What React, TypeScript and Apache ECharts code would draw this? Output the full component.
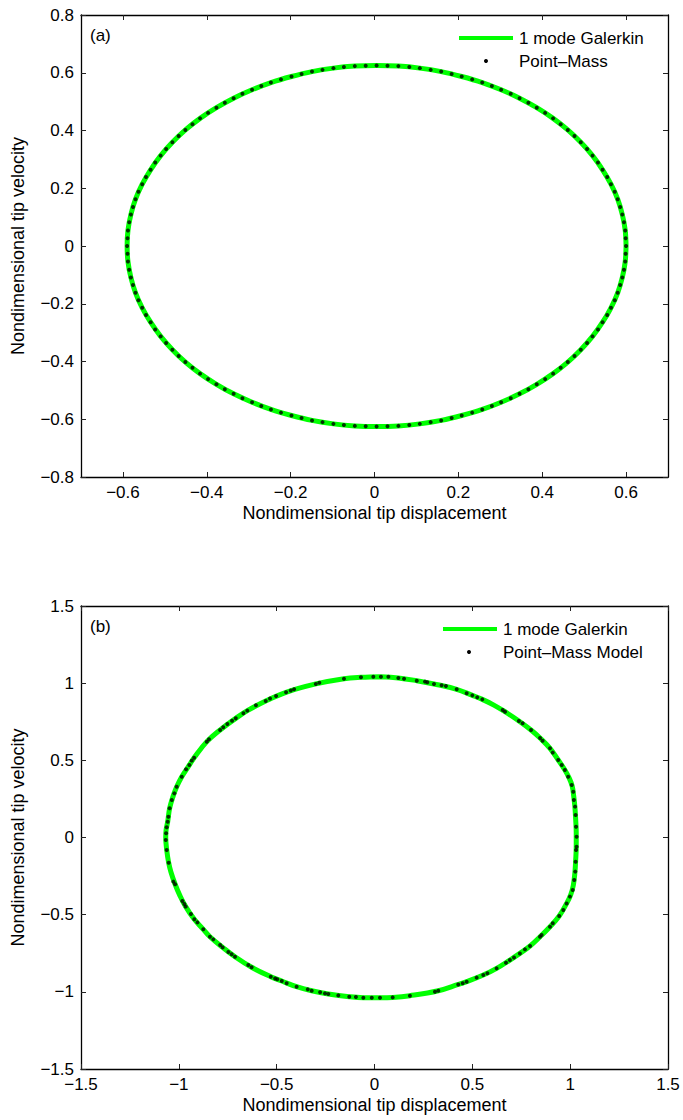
import React, { useEffect, useRef } from "react";
import * as echarts from "echarts";

// ---- Data ----
const xTicksA = [-0.6, -0.4, -0.2, 0, 0.2, 0.4, 0.6];
const yTicksA = [-0.8, -0.6, -0.4, -0.2, 0, 0.2, 0.4, 0.6, 0.8];
const ticksB = [-1.5, -1, -0.5, 0, 0.5, 1, 1.5];

const legendGalerkin = "1 mode Galerkin";
const legendPointMassA = "Point\u2013Mass";
const legendPointMassB = "Point\u2013Mass Model";
const xTitle = "Nondimensional tip displacement";
const yTitle = "Nondimensional tip velocity";

// Panel (a): 1 mode Galerkin (displacement, velocity)
const galerkinA: number[][] = [
  [0.600, 0], [0.598, 0.054], [0.591, 0.109], [0.580, 0.162], [0.564, 0.214], [0.544, 0.264], [0.520, 0.313], [0.492, 0.359], [0.461, 0.402], [0.426, 0.442], [0.387, 0.479], [0.346, 0.512], [0.302, 0.541], [0.257, 0.566], [0.208, 0.587], [0.159, 0.604], [0.108, 0.616], [0.057, 0.623],
  [0.005, 0.625], [-0.047, 0.623], [-0.098, 0.616], [-0.149, 0.604], [-0.198, 0.587], [-0.247, 0.566], [-0.292, 0.541], [-0.336, 0.512], [-0.377, 0.479], [-0.416, 0.442], [-0.451, 0.402], [-0.482, 0.359], [-0.510, 0.313], [-0.534, 0.264], [-0.554, 0.214], [-0.570, 0.162], [-0.581, 0.109], [-0.588, 0.054],
  [-0.590, 0], [-0.588, -0.054], [-0.581, -0.109], [-0.570, -0.162], [-0.554, -0.214], [-0.534, -0.264], [-0.510, -0.313], [-0.482, -0.359], [-0.451, -0.402], [-0.416, -0.442], [-0.377, -0.479], [-0.336, -0.512], [-0.292, -0.541], [-0.247, -0.566], [-0.198, -0.587], [-0.149, -0.604], [-0.098, -0.616], [-0.047, -0.623],
  [0.005, -0.625], [0.057, -0.623], [0.108, -0.616], [0.159, -0.604], [0.208, -0.587], [0.257, -0.566], [0.302, -0.541], [0.346, -0.512], [0.387, -0.479], [0.426, -0.442], [0.461, -0.402], [0.492, -0.359], [0.520, -0.313], [0.544, -0.264], [0.564, -0.214], [0.580, -0.162], [0.591, -0.109], [0.598, -0.054], [0.600, 0],
];

// Panel (a): Point-Mass samples
const pointMassA: number[][] = [
  [0.600, 0], [0.599, 0.027], [0.598, 0.054], [0.595, 0.082], [0.591, 0.109], [0.586, 0.135], [0.580, 0.162], [0.573, 0.188], [0.564, 0.214], [0.555, 0.239], [0.544, 0.264], [0.533, 0.289], [0.520, 0.313], [0.507, 0.336], [0.492, 0.359], [0.477, 0.381], [0.461, 0.402], [0.444, 0.422], [0.426, 0.442], [0.407, 0.461], [0.387, 0.479], [0.367, 0.496], [0.346, 0.512], [0.325, 0.527], [0.302, 0.541], [0.280, 0.554], [0.257, 0.566], [0.233, 0.577], [0.208, 0.587], [0.184, 0.596], [0.159, 0.604], [0.134, 0.610], [0.108, 0.616], [0.083, 0.620], [0.057, 0.623], [0.031, 0.624],
  [0.005, 0.625], [-0.021, 0.624], [-0.047, 0.623], [-0.073, 0.620], [-0.098, 0.616], [-0.124, 0.610], [-0.149, 0.604], [-0.174, 0.596], [-0.198, 0.587], [-0.223, 0.577], [-0.247, 0.566], [-0.270, 0.554], [-0.292, 0.541], [-0.315, 0.527], [-0.336, 0.512], [-0.357, 0.496], [-0.377, 0.479], [-0.397, 0.461], [-0.416, 0.442], [-0.434, 0.422], [-0.451, 0.402], [-0.467, 0.381], [-0.482, 0.359], [-0.497, 0.336], [-0.510, 0.313], [-0.523, 0.289], [-0.534, 0.264], [-0.545, 0.239], [-0.554, 0.214], [-0.563, 0.188], [-0.570, 0.162], [-0.576, 0.135], [-0.581, 0.109], [-0.585, 0.082], [-0.588, 0.054], [-0.589, 0.027],
  [-0.590, 0], [-0.589, -0.027], [-0.588, -0.054], [-0.585, -0.082], [-0.581, -0.109], [-0.576, -0.135], [-0.570, -0.162], [-0.563, -0.188], [-0.554, -0.214], [-0.545, -0.239], [-0.534, -0.264], [-0.523, -0.289], [-0.510, -0.313], [-0.497, -0.336], [-0.482, -0.359], [-0.467, -0.381], [-0.451, -0.402], [-0.434, -0.422], [-0.416, -0.442], [-0.397, -0.461], [-0.377, -0.479], [-0.357, -0.496], [-0.336, -0.512], [-0.315, -0.527], [-0.292, -0.541], [-0.270, -0.554], [-0.247, -0.566], [-0.223, -0.577], [-0.198, -0.587], [-0.174, -0.596], [-0.149, -0.604], [-0.124, -0.610], [-0.098, -0.616], [-0.073, -0.620], [-0.047, -0.623], [-0.021, -0.624],
  [0.005, -0.625], [0.031, -0.624], [0.057, -0.623], [0.083, -0.620], [0.108, -0.616], [0.134, -0.610], [0.159, -0.604], [0.184, -0.596], [0.208, -0.587], [0.233, -0.577], [0.257, -0.566], [0.280, -0.554], [0.302, -0.541], [0.325, -0.527], [0.346, -0.512], [0.367, -0.496], [0.387, -0.479], [0.407, -0.461], [0.426, -0.442], [0.444, -0.422], [0.461, -0.402], [0.477, -0.381], [0.492, -0.359], [0.507, -0.336], [0.520, -0.313], [0.533, -0.289], [0.544, -0.264], [0.555, -0.239], [0.564, -0.214], [0.573, -0.188], [0.580, -0.162], [0.586, -0.135], [0.591, -0.109], [0.595, -0.082], [0.598, -0.054], [0.599, -0.027],
];

// Panel (b): 1 mode Galerkin
const galerkinB: number[][] = [
  [0.033, 1.042], [0.122, 1.034], [0.216, 1.016], [0.304, 0.995], [0.420, 0.960], [0.500, 0.921], [0.551, 0.895], [0.610, 0.858], [0.667, 0.815], [0.738, 0.755], [0.800, 0.697], [0.846, 0.645], [0.897, 0.578], [0.939, 0.502], [0.973, 0.437], [0.995, 0.385], [1.010, 0.335], [1.018, 0.270], [1.024, 0.200], [1.028, 0.120], [1.031, 0.030], [1.031, -0.060], [1.028, -0.150], [1.024, -0.230], [1.016, -0.310], [1.003, -0.370], [0.982, -0.427], [0.944, -0.509], [0.897, -0.578], [0.846, -0.643], [0.795, -0.703], [0.743, -0.751], [0.692, -0.794], [0.624, -0.848], [0.556, -0.891], [0.471, -0.934], [0.428, -0.952], [0.326, -0.993], [0.181, -1.025], [0.093, -1.036], [0.028, -1.038],
  [-0.057, -1.038], [-0.129, -1.032], [-0.236, -1.014], [-0.321, -0.993], [-0.398, -0.967], [-0.474, -0.930], [-0.530, -0.902], [-0.628, -0.841], [-0.713, -0.773], [-0.776, -0.712], [-0.841, -0.643], [-0.875, -0.595], [-0.921, -0.530], [-0.965, -0.448], [-0.995, -0.375], [-1.019, -0.303], [-1.040, -0.225], [-1.052, -0.163], [-1.062, -0.081], [-1.067, 0.000], [-1.065, 0.050], [-1.057, 0.102], [-1.047, 0.189], [-1.030, 0.265], [-1.011, 0.329], [-0.985, 0.394], [-0.946, 0.470], [-0.922, 0.517], [-0.857, 0.621], [-0.789, 0.697], [-0.709, 0.772], [-0.650, 0.822], [-0.556, 0.885], [-0.452, 0.941], [-0.300, 0.995], [-0.156, 1.029], [-0.069, 1.038], [0.033, 1.042],
];

// Panel (b): Point-Mass Model samples
const pointMassB: number[][] = [
  [-1.067, -0.016], [-1.065, 0.027], [-1.062, 0.066], [-1.057, 0.102], [-1.053, 0.135], [-1.047, 0.189], [-1.036, 0.243], [-1.023, 0.286], [-1.011, 0.329], [-0.985, 0.394], [-0.963, 0.442], [-0.946, 0.470], [-0.934, 0.498], [-0.922, 0.517], [-0.857, 0.621], [-0.846, 0.636], [-0.789, 0.697], [-0.773, 0.714], [-0.752, 0.736], [-0.728, 0.757], [-0.709, 0.772], [-0.670, 0.805], [-0.650, 0.822], [-0.606, 0.857], [-0.556, 0.885], [-0.534, 0.900], [-0.503, 0.917], [-0.452, 0.941], [-0.428, 0.952], [-0.411, 0.960], [-0.300, 0.995], [-0.282, 1.003], [-0.156, 1.029], [-0.069, 1.038], [-0.006, 1.042], [0.033, 1.042], [0.071, 1.042],
  [0.122, 1.034], [0.151, 1.029], [0.216, 1.016], [0.258, 1.010], [0.270, 1.006], [0.304, 0.995], [0.343, 0.986], [0.365, 0.982], [0.420, 0.960], [0.471, 0.934], [0.500, 0.921], [0.525, 0.908], [0.551, 0.895], [0.655, 0.826], [0.667, 0.815], [0.738, 0.755], [0.757, 0.740], [0.800, 0.697], [0.846, 0.645], [0.859, 0.627], [0.897, 0.578], [0.911, 0.550], [0.939, 0.502], [0.957, 0.470], [0.973, 0.437], [0.990, 0.394], [1.008, 0.340], [1.016, 0.297], [1.019, 0.243], [1.025, 0.200], [1.028, 0.146], [1.030, 0.070], [1.033, 0.005], [1.033, -0.060],
  [1.030, -0.081], [1.028, -0.157], [1.026, -0.221], [1.021, -0.275], [1.013, -0.340], [0.999, -0.383], [0.982, -0.427], [0.965, -0.470], [0.944, -0.509], [0.911, -0.556], [0.897, -0.578], [0.854, -0.632], [0.846, -0.643], [0.795, -0.703], [0.769, -0.725], [0.743, -0.751], [0.713, -0.777], [0.692, -0.794], [0.672, -0.811], [0.624, -0.848], [0.577, -0.880], [0.556, -0.891], [0.522, -0.908], [0.471, -0.934], [0.451, -0.945], [0.428, -0.952], [0.326, -0.993], [0.309, -0.999], [0.181, -1.025], [0.093, -1.036], [0.028, -1.038], [-0.014, -1.038],
  [-0.057, -1.038], [-0.095, -1.034], [-0.129, -1.032], [-0.185, -1.023], [-0.236, -1.014], [-0.253, -1.010], [-0.278, -1.003], [-0.321, -0.993], [-0.341, -0.984], [-0.398, -0.967], [-0.449, -0.945], [-0.474, -0.930], [-0.497, -0.919], [-0.508, -0.913], [-0.530, -0.902], [-0.628, -0.841], [-0.645, -0.826], [-0.713, -0.773], [-0.730, -0.757], [-0.747, -0.742], [-0.776, -0.712], [-0.789, -0.697], [-0.824, -0.660], [-0.841, -0.643], [-0.875, -0.595], [-0.905, -0.550], [-0.921, -0.530], [-0.938, -0.496], [-0.965, -0.448], [-0.972, -0.431], [-0.982, -0.412], [-1.019, -0.303], [-1.028, -0.286], [-1.052, -0.163], [-1.062, -0.081],
];

const FONT = "'Liberation Sans', Arial, Helvetica, sans-serif";
const FS = 17;
const FS_TITLE = 18;

function fmt(v: number): string {
  const s = String(Math.round(v * 10) / 10);
  return s.replace("-", "\u2212");
}

function axis(
  gridIndex: number,
  position: string,
  min: number,
  max: number,
  ticks: number[],
  showLabels: boolean,
  name?: string,
  nameGap?: number
) {
  return {
    type: "value",
    gridIndex,
    position,
    min,
    max,
    name: name || "",
    nameLocation: "middle",
    nameGap: nameGap || 0,
    nameTextStyle: { fontSize: FS_TITLE, color: "#000", fontFamily: FONT },
    axisLine: { show: true, onZero: false, lineStyle: { color: "#000", width: 1.3 } },
    axisTick: {
      show: true,
      inside: true,
      length: 5,
      customValues: ticks,
      lineStyle: { color: "#222", width: 1 },
    },
    axisLabel: {
      show: showLabels,
      customValues: ticks,
      formatter: fmt,
      margin: 7,
      fontSize: FS,
      color: "#000",
      fontFamily: FONT,
      showMinLabel: true,
      showMaxLabel: true,
    },
    splitLine: { show: false },
  };
}

export default function App() {
  const ref = useRef<HTMLDivElement>(null);

  useEffect(() => {
    if (!ref.current) return;
    const chart = echarts.init(ref.current, undefined, { renderer: "svg" });

    const textStyle = { fontSize: FS, fontFamily: FONT, fill: "#000" };

    chart.setOption({
      animation: false,
      backgroundColor: "#fff",
      textStyle: { fontFamily: FONT },
      grid: [
        { left: 81, top: 15, width: 587, height: 462, containLabel: false, outerBoundsMode: "none" },
        { left: 81, top: 606, width: 587, height: 463, containLabel: false, outerBoundsMode: "none" },
      ],
      xAxis: [
        axis(0, "bottom", -0.7, 0.7, xTicksA, true, xTitle, 27),
        axis(0, "top", -0.7, 0.7, xTicksA, false),
        axis(1, "bottom", -1.5, 1.5, ticksB, true, xTitle, 27),
        axis(1, "top", -1.5, 1.5, ticksB, false),
      ],
      yAxis: [
        axis(0, "left", -0.8, 0.8, yTicksA, true, yTitle, 54),
        axis(0, "right", -0.8, 0.8, yTicksA, false),
        axis(1, "left", -1.5, 1.5, ticksB, true, yTitle, 54),
        axis(1, "right", -1.5, 1.5, ticksB, false),
      ],
      series: [
        {
          name: legendGalerkin,
          type: "line",
          xAxisIndex: 0,
          yAxisIndex: 0,
          data: galerkinA,
          showSymbol: false,
          symbol: "none",
          smooth: 0.3,
          lineStyle: { color: "#00ff00", width: 5 },
          z: 2,
        },
        {
          name: legendPointMassA,
          type: "scatter",
          xAxisIndex: 0,
          yAxisIndex: 0,
          data: pointMassA,
          symbol: "circle",
          symbolSize: 4,
          itemStyle: { color: "#000" },
          z: 3,
        },
        {
          name: legendGalerkin,
          type: "line",
          xAxisIndex: 2,
          yAxisIndex: 2,
          data: galerkinB,
          showSymbol: false,
          symbol: "none",
          smooth: 0.4,
          lineStyle: { color: "#00ff00", width: 5 },
          z: 2,
        },
        {
          name: legendPointMassB,
          type: "scatter",
          xAxisIndex: 2,
          yAxisIndex: 2,
          data: pointMassB,
          symbol: "circle",
          symbolSize: 4,
          itemStyle: { color: "#000" },
          z: 3,
        },
      ],
      graphic: [
        { type: "text", left: 90, top: 27, style: { ...textStyle, text: "(a)" } },
        { type: "text", left: 90, top: 618, style: { ...textStyle, text: "(b)" } },
        // legend (a)
        { type: "line", shape: { x1: 459, y1: 38, x2: 513, y2: 38 }, style: { stroke: "#00ff00", lineWidth: 4 } },
        { type: "text", x: 519, y: 38, style: { ...textStyle, text: legendGalerkin, verticalAlign: "middle" } },
        { type: "circle", shape: { cx: 486, cy: 61, r: 2 }, style: { fill: "#000" } },
        { type: "text", x: 519, y: 61, style: { ...textStyle, text: legendPointMassA, verticalAlign: "middle" } },
        // legend (b)
        { type: "line", shape: { x1: 443, y1: 629, x2: 497, y2: 629 }, style: { stroke: "#00ff00", lineWidth: 4 } },
        { type: "text", x: 503, y: 629, style: { ...textStyle, text: legendGalerkin, verticalAlign: "middle" } },
        { type: "circle", shape: { cx: 469, cy: 652, r: 2 }, style: { fill: "#000" } },
        { type: "text", x: 503, y: 652, style: { ...textStyle, text: legendPointMassB, verticalAlign: "middle" } },
      ],
    });

    return () => chart.dispose();
  }, []);

  return (
    <div
      ref={ref}
      style={{ position: "absolute", left: 0, top: 0, width: 683, height: 1120, background: "#fff" }}
    />
  );
}
